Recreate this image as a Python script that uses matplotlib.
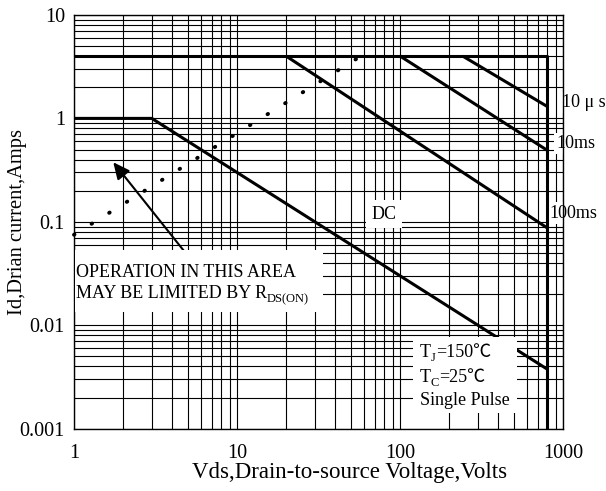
import matplotlib
matplotlib.use('Agg')
import matplotlib.pyplot as plt
from matplotlib.patches import Rectangle
from matplotlib.ticker import FixedLocator, FixedFormatter, LogLocator, NullFormatter

# ---------------- data ----------------
x_ticks = [1, 10, 100, 1000]
x_tick_labels = ['1', '10', '100', '1000']
y_ticks = [0.001, 0.01, 0.1, 1, 10]
y_tick_labels = ['0.001', '0.01', '0.1', '1', '10']

limit_vds = [1, 800, 800]
limit_id = [4, 4, 0.001]
dc_vds = [1, 3, 800]
dc_id = [1, 1, 0.00375]
ms100_vds = [20, 800]
ms100_id = [4, 0.087]
ms10_vds = [100, 800]
ms10_id = [4, 0.49]
us10_vds = [242, 800]
us10_id = [4, 1.30]
rds_vds = [1, 54]
rds_id = [0.075, 3.77]

SERIF = ['Liberation Serif', 'Noto Sans CJK SC', 'DejaVu Serif']
plt.rcParams['font.family'] = SERIF

fig = plt.figure(figsize=(6.06, 4.91), dpi=100)
ax = fig.add_axes([0.1221, 0.1269, 0.8074, 0.8426])
ax.set_xscale('log')
ax.set_yscale('log')
ax.set_xlim(1, 1000)
ax.set_ylim(0.001, 10)

ax.xaxis.set_major_locator(FixedLocator(x_ticks))
ax.xaxis.set_major_formatter(FixedFormatter(x_tick_labels))
ax.yaxis.set_major_locator(FixedLocator(y_ticks))
ax.yaxis.set_major_formatter(FixedFormatter(y_tick_labels))
for a in (ax.xaxis, ax.yaxis):
    a.set_minor_locator(LogLocator(base=10, subs=range(2, 10)))
    a.set_minor_formatter(NullFormatter())
ax.tick_params(which='both', length=0)
ax.tick_params(axis='x', pad=11, labelsize=14.5)
ax.tick_params(axis='y', pad=6.5, labelsize=14.5)
ax.set_axisbelow(True)
ax.grid(True, which='both', color='black', lw=0.8)
for s in ax.spines.values():
    s.set_linewidth(1.0)
    s.set_color('black')

LW = 2.2
ax.plot(limit_vds, limit_id, color='black', lw=LW, zorder=3, solid_capstyle='butt')
ax.plot(dc_vds, dc_id, color='black', lw=LW, zorder=3, solid_capstyle='butt')
ax.plot(ms100_vds, ms100_id, color='black', lw=LW, zorder=3, solid_capstyle='butt')
ax.plot(ms10_vds, ms10_id, color='black', lw=LW, zorder=3, solid_capstyle='butt')
ax.plot(us10_vds, us10_id, color='black', lw=LW, zorder=3, solid_capstyle='butt')
ax.plot(rds_vds, rds_id, color='black', lw=2.8, zorder=3, clip_on=False,
        linestyle=(0, (0.15, 5.18)), dash_capstyle='round')

# arrow
ax.annotate('', xy=(0.0803, 0.644), xytext=(0.2248, 0.4296),
            xycoords='axes fraction', textcoords='axes fraction',
            arrowprops=dict(arrowstyle='-|>,head_length=1.0,head_width=0.47',
                            color='black', lw=1.5, mutation_scale=10,
                            shrinkA=0, shrinkB=0), zorder=3)

# white boxes
ax.add_patch(Rectangle((0.002, 0.282), 0.507, 0.150, transform=ax.transAxes,
                       facecolor='white', edgecolor='none', zorder=4))
ax.add_patch(Rectangle((0.693, 0.038), 0.212, 0.184, transform=ax.transAxes,
                       facecolor='white', edgecolor='none', zorder=4))


def rich_text(x, y, pieces, size=13, sub_size=9):
    prev = None
    for s, sub in pieces:
        fs = sub_size if sub else size
        dy = -0.22 * size if sub else 0
        if prev is None:
            t = ax.annotate(s, xy=(x, y), xycoords='axes fraction',
                            xytext=(0, dy), textcoords='offset points',
                            ha='left', va='baseline', fontsize=fs, zorder=5)
        else:
            t = ax.annotate(s, xy=(1, y), xycoords=(prev, 'axes fraction'),
                            xytext=(0, dy), textcoords='offset points',
                            ha='left', va='baseline', fontsize=fs, zorder=5)
        prev = t


rich_text(0.004, 0.3674, [('OPERATION IN THIS AREA', False)])
rich_text(0.004, 0.3152, [('MAY BE LIMITED BY R', False), ('DS(ON)', True)])
rich_text(0.707, 0.173, [('T', False), ('J', True), ('=150℃', False)])
rich_text(0.707, 0.113, [('T', False), ('C', True), ('=25℃', False)])
rich_text(0.707, 0.057, [('Single Pulse', False)])

lab_kw = dict(transform=ax.transAxes, fontsize=13, ha='left', va='center',
              clip_on=False, zorder=2.5,
              bbox=dict(facecolor='white', edgecolor='none', pad=1.5))
ax.text(0.997, 0.789, '10 μ s', **lab_kw)
ax.text(0.986, 0.690, '10ms', **lab_kw)
ax.text(0.971, 0.521, '100ms', **lab_kw)
ax.text(0.634, 0.518, 'DC', transform=ax.transAxes, fontsize=13, ha='center',
        va='center', zorder=2.5,
        bbox=dict(facecolor='white', edgecolor='none', pad=4))

fig.text(192 / 606, (491 - 478.3) / 491, 'Vds,Drain-to-source Voltage,Volts',
         fontsize=16.5, ha='left', va='baseline')
fig.text(17.5 / 606, 1 - 221.7 / 491, 'Id,Drian current,Amps', fontsize=14.8,
         rotation=90, ha='center', va='center')

fig.savefig('out.png', dpi=100)
